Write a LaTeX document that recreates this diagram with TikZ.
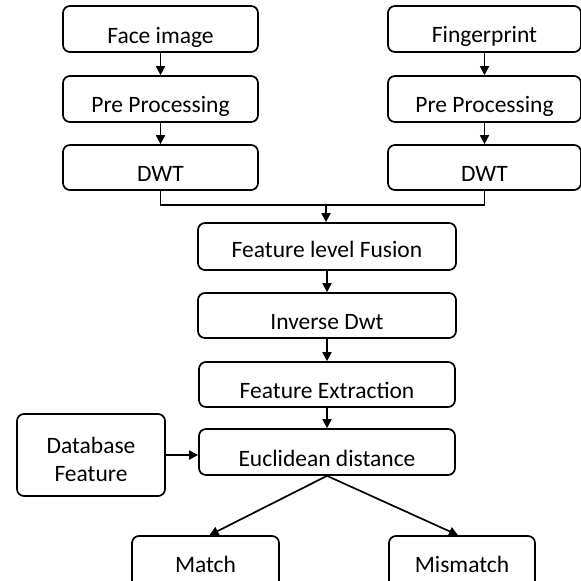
\documentclass[tikz,border=0pt]{standalone}
\usepackage{fontspec}
\setmainfont{Carlito}
\usetikzlibrary{arrows.meta}
\begin{document}
\begin{tikzpicture}[x=1pt,y=-1pt,
  box/.style={draw, line width=1.7pt, rounded corners=7pt, inner sep=0pt,
    font=\fontsize{23.5}{28}\selectfont},
  one/.style={text depth=0pt, text height=#1},
  arr/.style={line width=1.7pt, -{Triangle[length=9pt,width=9pt]}},
  link/.style={line width=1.7pt}]
\useasboundingbox (0,0) rectangle (581,581);
% left column
\node[box, one=28pt, minimum width=195pt, minimum height=46pt] (face) at (160.5,29) {Face image};
\node[box, one=26pt, minimum width=195pt, minimum height=46pt] (prel) at (160.5,99) {Pre Processing};
\node[box, one=27pt, minimum width=195pt, minimum height=45pt] (dwtl) at (160.5,167.5) {DWT};
% right column
\node[box, one=26pt, minimum width=193pt, minimum height=46pt] (finger) at (484.5,29) {Fingerprint};
\node[box, one=26pt, minimum width=193pt, minimum height=46pt] (prer) at (484.5,99) {Pre Processing};
\node[box, one=27pt, minimum width=193pt, minimum height=45pt] (dwtr) at (484.5,167.5) {DWT};
% middle column
\node[box, one=21pt, minimum width=258pt, minimum height=47pt] (fusion) at (327,246.5) {Feature level Fusion};
\node[box, one=27pt, minimum width=258pt, minimum height=45pt] (idwt) at (327,315.5) {Inverse Dwt};
\node[box, one=27pt, minimum width=256pt, minimum height=45pt] (fext) at (327,384.5) {Feature Extraction};
\node[box, one=28pt, minimum width=256pt, minimum height=46pt] (eucl) at (327,452) {Euclidean distance};
% database
\node[box, minimum width=148pt, minimum height=82pt, align=center] (db) at (91,455) {\rule{0pt}{26pt}Database\\Feature};
% outputs
\node[box, one=8pt, minimum width=147pt, minimum height=64pt] (match) at (205.5,568) {Match};
\node[box, one=8pt, minimum width=146pt, minimum height=64pt] (mismatch) at (462,568) {Mismatch};
% connectors
\draw[arr] (face) -- (prel);
\draw[arr] (prel) -- (dwtl);
\draw[arr] (finger) -- (prer);
\draw[arr] (prer) -- (dwtr);
\coordinate (join) at (326,205);
\draw[link] (dwtl.south) |- (join) -| (dwtr.south);
\draw[arr] (join) -- (join |- fusion.north);
\draw[arr] (fusion) -- (idwt);
\draw[arr] (idwt) -- (fext);
\draw[arr] (fext) -- (eucl);
\draw[arr] (db.east) -- (db.east -| eucl.west);
\draw[arr] (eucl.south) -- ([xshift=4pt]match.north);
\draw[arr] (eucl.south) -- ([xshift=-4pt]mismatch.north);
\end{tikzpicture}
\end{document}
